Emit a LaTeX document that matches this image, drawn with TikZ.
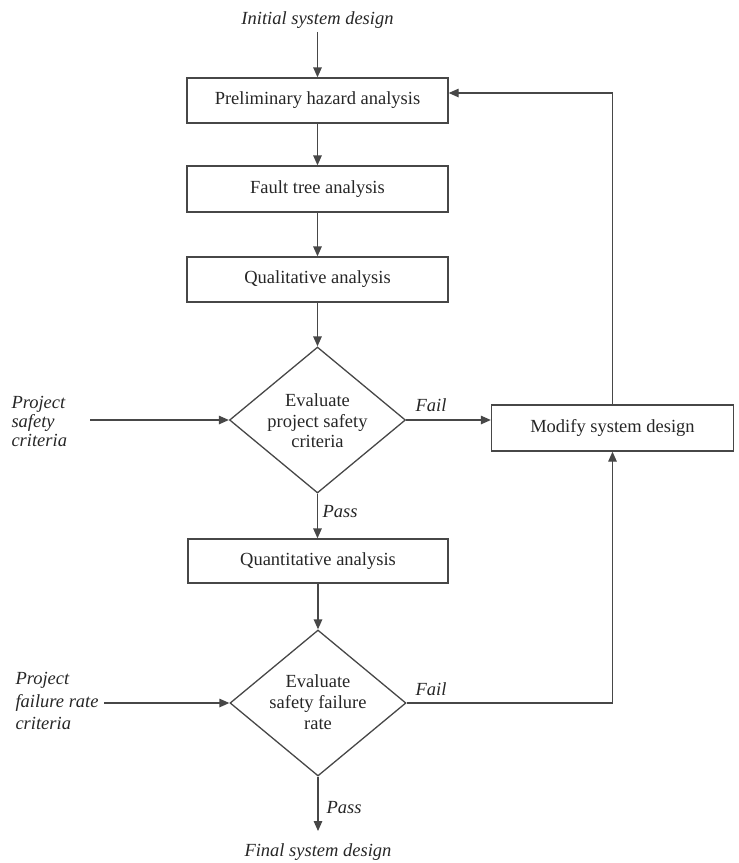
\documentclass[tikz,border=0pt]{standalone}
\usepackage{fontspec}
\setmainfont{Liberation Serif}
\usetikzlibrary{shapes.geometric,arrows.meta}
\begin{document}
\begin{tikzpicture}[x=1pt,y=-1pt,
  every node/.style={font=\fontsize{18.5}{20}\selectfont, text=black!85},
  stepbox/.style={draw=black!72, line width=1.3pt, inner sep=0pt},
  decision/.style={draw=black!72, line width=1.3pt, diamond, inner sep=0pt,
    minimum width=176pt, minimum height=146pt},
  flow/.style={draw=black!72, line width=1.3pt, -{Triangle[length=10pt,width=8.5pt]}},
  tag/.style={font=\itshape\fontsize{18.5}{20}\selectfont},
  dtext/.style={align=center, font=\fontsize{18.5}{20.5}\selectfont},
]
\useasboundingbox (0,0) rectangle (739,863);

% main column
\node[tag] (init) at (317.5,20) {Initial system design};
\node[stepbox, minimum width=261pt, minimum height=45pt] (pha) at (317.5,100.5) {Preliminary hazard analysis};
\node[stepbox, minimum width=261pt, minimum height=46pt] (fta) at (317.5,189) {Fault tree analysis};
\node[stepbox, minimum width=261pt, minimum height=45pt] (qa) at (317.5,279.5) {Qualitative analysis};

\node[decision] (d1) at (317.5,420) {};
\node[dtext] (d1t) at (317.5,421) {Evaluate\\project safety\\criteria};

\node[stepbox, minimum width=260pt, minimum height=44pt] (qan) at (318,561) {Quantitative analysis};

\node[decision] (d2) at (318,703) {};
\node[dtext, font=\fontsize{18.5}{21}\selectfont] (d2t) at (318,702) {Evaluate\\safety failure\\rate};

\node[tag] (fin) at (318,852) {Final system design};

% side box
\node[stepbox, minimum width=242pt, minimum height=46pt] (msd) at (612.5,428) {Modify system design};

% criteria inputs
\node[tag, align=left, anchor=west, font=\itshape\fontsize{18.5}{19}\selectfont] (psc) at (8,421) {Project\\safety\\criteria};
\coordinate (psc-out) at (90,420);
\node[tag, align=left, anchor=west, font=\itshape\fontsize{18.5}{22.5}\selectfont] (pfr) at (12,701) {Project\\failure rate\\criteria};
\coordinate (pfr-out) at (104,703);

% connectors
\draw[flow] (init) -- (pha);
\draw[flow] (pha) -- (fta);
\draw[flow] (fta) -- (qa);
\draw[flow] (qa.south) -- (d1.north);
\draw[flow] (psc-out) -- (d1.west);
\draw[flow] (d1.east) -- (msd.west |- d1.east);
\node[tag] (fail1) at (431,405) {Fail};
\draw[flow] (d1.south) -- (qan.north -| d1.south);
\node[tag] (pass1) at (340,512) {Pass};
\draw[flow] (qan.south) -- (d2.north);
\draw[flow] (pfr-out) -- (d2.west);
\draw[flow] (d2.east) -| (msd.south);
\node[tag] (fail2) at (431,689) {Fail};
\draw[flow, shorten >=9pt] (d2.south) -- (fin.north);
\node[tag] (pass2) at (344,808) {Pass};

% feedback loop
\coordinate (ret) at (612.5,93);
\draw[flow] (msd.north) -- (ret) -- (pha.east |- ret);
\end{tikzpicture}
\end{document}
